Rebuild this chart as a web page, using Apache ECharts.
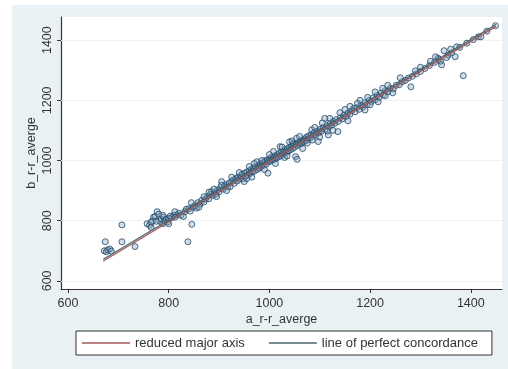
<!DOCTYPE html>
<html>
<head>
<meta charset="utf-8">
<script src="https://cdn.jsdelivr.net/npm/echarts@6/dist/echarts.min.js"></script>
<style>
html,body{margin:0;padding:0;background:#fff;width:508px;height:369px;overflow:hidden;}
#c{position:absolute;left:12px;top:5px;width:496px;height:364px;background:#eaf1f4;}
</style>
</head>
<body>
<div id="c"></div>
<script>
// Tick labels
const xTicks = [600, 800, 1000, 1200, 1400];
const yTicks = [600, 800, 1000, 1200, 1400];
const xTitle = 'a_r-r_averge';
const yTitle = 'b_r-r_averge';
const legendNames = ['reduced major axis', 'line of perfect concordance'];

const points = [
[672,700],[674,730],[676,697],[679,703],[683,706],[686,699],[707,786],[707,730],[733,714],
[757,790],[762,785],[765,778],[768,800],[770,812],[773,814],[777,830],[780,822],[782,798],[785,806],[788,790],
[790,812],[792,800],[795,805],[798,796],[800,808],[803,815],[806,810],[810,818],[813,812],[816,820],
[820,825],[824,818],[829,814],[832,830],[835,838],[838,730],[846,788],[840,840],[843,832],[848,845],
[852,850],[855,842],[858,860],[862,855],[866,868],[870,862],[873,872],[877,880],[880,873],[883,888],
[885,897],[888,884],[891,893],[894,888],[897,902],[900,896],[903,910],[905,930],[908,905],[911,915],
[914,920],[917,912],[920,925],[922,913],[925,930],[928,935],[930,924],[933,940],[936,932],[938,945],
[941,938],[943,950],[946,955],[948,940],[951,958],[953,948],[955,962],[958,952],[960,966],[962,958],
[964,970],[966,962],[968,975],[970,965],[972,978],[975,996],[976,970],[978,982],[980,975],[982,988],
[984,980],[986,992],[988,984],[990,995],[992,1000],[994,988],[996,1002],[997,958],[998,996],[1000,1006],
[1002,998],[1004,1010],[1006,1002],[1008,1012],[1010,1004],[1012,1016],[1014,1008],[1016,1020],[1018,1012],[1020,1024],
[1021,1046],[1022,1016],[1024,1028],[1026,1020],[1028,1032],[1030,1024],[1032,1036],[1034,1028],[1036,1040],[1038,1032],
[1040,1044],[1042,1036],[1044,1048],[1046,1040],[1047,1057],[1048,1052],[1050,1044],[1052,1013],[1053,1056],[1054,1074],
[1055,1004],[1056,1050],[1058,1060],[1060,1054],[1062,1064],[1064,1058],[1066,1068],[1068,1062],[1070,1072],[1072,1066],
[1074,1078],[1076,1070],[1078,1082],[1080,1074],[1083,1086],[1084,1102],[1086,1080],[1089,1092],[1092,1086],[1095,1098],
[1097,1063],[1098,1092],[1101,1104],[1104,1098],[1107,1110],[1110,1140],[1111,1104],[1114,1116],[1117,1085],[1118,1112],
[1121,1124],[1124,1118],[1127,1130],[1130,1124],[1133,1136],[1136,1096],[1137,1130],[1140,1159],[1141,1142],[1145,1138],
[1148,1150],[1152,1146],[1156,1158],[1160,1154],[1164,1166],[1168,1174],[1170,1162],[1174,1176],[1178,1170],[1182,1184],
[1186,1178],[1190,1192],[1194,1186],[1198,1200],[1202,1196],[1206,1208],[1210,1202],[1214,1216],[1218,1210],[1222,1224],
[1226,1218],[1230,1232],[1235,1228],[1240,1240],[1246,1238],[1252,1250],[1258,1252],[1264,1262],[1270,1266],[1276,1274],
[1281,1245],[1284,1280],[1292,1288],[1300,1296],[1309,1306],[1318,1316],[1328,1326],[1335,1340],[1337,1336],[1342,1318],
[1347,1365],[1355,1350],[1362,1358],[1369,1345],[1372,1378],[1378,1376],[1385,1282],[1392,1390],[1405,1402],[1415,1411],
[1420,1411],[1432,1430],[1449,1448],
[1008,1030],[1012,990],[1030,1010],[1040,1062],[1060,1080],[1066,1040],[1090,1110],[1100,1078],[1120,1140],[1126,1100],
[1150,1170],[1156,1132],[1180,1200],[1190,1168],[1210,1228],[1216,1195],[1235,1250],[1245,1225],[1260,1275],[940,960],
[950,930],[960,980],[965,945],[925,945],[915,900],[890,905],[870,880],[860,845],[845,860],[812,830],
[800,790],[788,818],[775,798],[765,795],[1330,1345],[1340,1330],[1352,1342],[1360,1370],[1320,1330],[1300,1310],
[1290,1298],[1025,1045],[1035,1015],[1045,1065],[1075,1058],[1085,1068],[1105,1125],[1115,1098],[1000,1020],[985,1000],
[990,970],[970,990],[955,940],[905,918],[880,895],[895,880],[1160,1180],[1175,1190],[1195,1210],[1200,1185],
[1225,1240],[1230,1215]
];

// Fitted lines (endpoints)
const rmaLine = [[670, 666], [1450, 1446]];
const concordanceLine = [[670, 672], [1450, 1452]];

const FONT = 'Liberation Sans, Arial, Helvetica, sans-serif';
const plain = v => String(v);
const chart = echarts.init(document.getElementById('c'), null, {renderer: 'canvas'});
chart.setOption({
  animation: false,
  backgroundColor: '#eaf1f4',
  grid: {left: 49, top: 12, right: 6, bottom: 80, show: true, backgroundColor: '#ffffff', borderWidth: 0},
  xAxis: {
    type: 'value', min: 586, max: 1462,
    name: xTitle, nameLocation: 'middle', nameGap: 24, nameMoveOverlap: false,
    nameTextStyle: {fontFamily: FONT, fontSize: 12.5, color: '#333'},
    axisLine: {onZero: false, lineStyle: {color: '#333', width: 1}},
    axisTick: {show: true, length: 4, customValues: xTicks, lineStyle: {color: '#333'}},
    axisLabel: {customValues: xTicks, formatter: plain, fontFamily: FONT, fontSize: 12.5, color: '#333', margin: 8},
    splitLine: {show: false}
  },
  yAxis: {
    type: 'value', min: 573, max: 1477,
    name: yTitle, nameLocation: 'middle', nameGap: 23, nameRotate: 90, nameMoveOverlap: false,
    nameTextStyle: {fontFamily: FONT, fontSize: 12.5, color: '#333'},
    axisLine: {show: true, onZero: false, lineStyle: {color: '#333', width: 1.2}},
    axisTick: {show: true, length: 4, customValues: yTicks, lineStyle: {color: '#333'}},
    axisLabel: {customValues: yTicks, formatter: plain, rotate: 90, fontFamily: FONT, fontSize: 12.5, color: '#333', margin: 7},
    splitLine: {show: false}
  },
  legend: {
    data: legendNames,
    left: 64, top: 326,
    orient: 'horizontal',
    icon: 'rect',
    itemWidth: 48, itemHeight: 1.3, itemGap: 24,
    padding: [4, 14, 4, 6],
    backgroundColor: '#ffffff', borderColor: '#333', borderWidth: 1,
    textStyle: {fontFamily: FONT, fontSize: 13, color: '#333', lineHeight: 16}
  },
  series: [
    {
      type: 'scatter', name: 'obs', data: points, symbol: 'circle', symbolSize: 6, z: 2,
      itemStyle: {color: 'rgba(130,160,185,0.45)', borderColor: '#21496a', borderWidth: 1},
      markLine: {
        silent: true, symbol: 'none', label: {show: false}, z: 1,
        lineStyle: {color: '#eef2f4', type: 'solid', width: 1},
        data: yTicks.map(v => ({yAxis: v}))
      }
    },
    {
      type: 'line', name: legendNames[0], data: rmaLine, symbol: 'none', z: 3,
      lineStyle: {color: '#a5585c', width: 1.3}, itemStyle: {color: '#a5585c'}
    },
    {
      type: 'line', name: legendNames[1], data: concordanceLine, symbol: 'none', z: 3,
      lineStyle: {color: '#48686c', width: 1.3}, itemStyle: {color: '#48686c'}
    }
  ]
});
</script>
</body>
</html>
